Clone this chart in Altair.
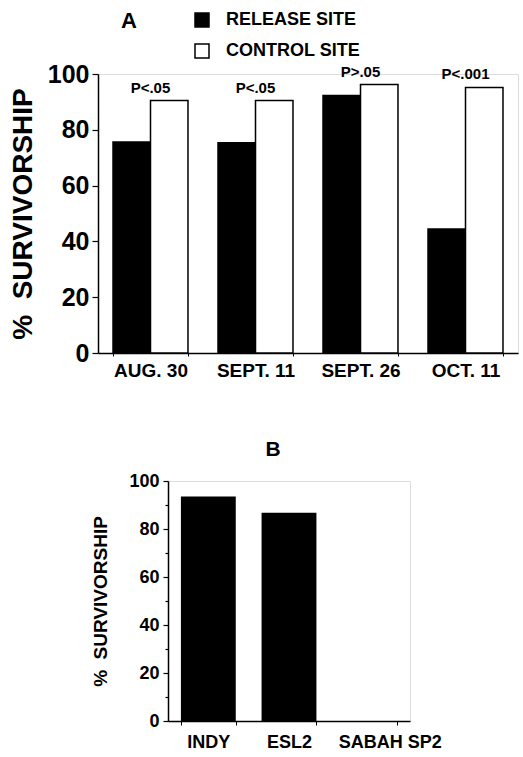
import altair as alt
import pandas as pd

# ---- data ----
dates = ["AUG. 30", "SEPT. 11", "SEPT. 26", "OCT. 11"]
sites = ["RELEASE SITE", "CONTROL SITE"]
release = [75.6, 75.4, 92.3, 44.4]
control = [90.5, 90.5, 96.2, 95.2]
p_labels = ["P<.05", "P<.05", "P>.05", "P<.001"]
strains = ["INDY", "ESL2", "SABAH SP2"]
strain_surv = [93.5, 86.8, 0.0]

FONT = "Liberation Sans"
YTITLE = "%\u00a0\u00a0SURVIVORSHIP"

dfA = pd.DataFrame({
    "date": dates * 2,
    "site": [sites[0]] * len(dates) + [sites[1]] * len(dates),
    "value": release + control,
})
dfP = pd.DataFrame({"date": dates, "p": p_labels, "value": control})
dfB = pd.DataFrame({"strain": strains, "value": strain_surv})

ticks = list(range(0, 101, 10))
label_expr = "datum.value % 20 == 0 ? datum.label : ''"


def tick_cond(minor, major):
    return {"condition": {"test": "datum.value % 20 != 0", "value": minor}, "value": major}


# ---- panel A ----
xA = alt.X(
    "date:N", sort=dates, title=None,
    scale=alt.Scale(paddingInner=0.286, paddingOuter=0.143),
    axis=alt.Axis(labelAngle=0, labelFont=FONT, labelFontSize=19, labelFontWeight="bold",
                  labelColor="black", tickBand="extent", tickSize=3, tickColor="black",
                  labelPadding=5, domainColor="black", domainWidth=1.5),
)
yA = alt.Y(
    "value:Q", scale=alt.Scale(domain=[0, 100], nice=False), title=YTITLE,
    axis=alt.Axis(values=ticks, labelExpr=label_expr, tickSize=tick_cond(3, 6),
                  tickColor="black", tickWidth=1.2, grid=False,
                  labelFont=FONT, labelFontSize=25, labelFontWeight="bold", labelColor="black",
                  labelPadding=3, domainColor="black", domainWidth=1.5,
                  titleFont=FONT, titleFontSize=28, titleFontWeight="bold", titleColor="black",
                  titlePadding=10),
)

bars = alt.Chart(dfA).mark_bar(stroke="black", strokeWidth=1.5).encode(
    x=xA,
    xOffset=alt.XOffset("site:N", sort=sites, scale=alt.Scale(paddingInner=0, paddingOuter=0)),
    y=yA,
    color=alt.Color(
        "site:N",
        scale=alt.Scale(domain=sites, range=["black", "white"]),
        legend=alt.Legend(
            title="A", orient="none", legendX=23, legendY=-63, direction="vertical",
            titleOrient="left", titleAnchor="start", titleFont=FONT, titleFontSize=22,
            titleFontWeight="bold", titleColor="black", titlePadding=56,
            labelFont=FONT, labelFontSize=18, labelFontWeight="bold", labelColor="black",
            labelOffset=15, symbolType="square", symbolSize=196, symbolStrokeColor="black",
            symbolStrokeWidth=1.5, rowPadding=11, padding=0,
        ),
    ),
)

ptext = alt.Chart(dfP).mark_text(
    font=FONT, fontSize=15, fontWeight="bold", color="black", baseline="alphabetic", dy=-8
).encode(
    x=alt.X("date:N", sort=dates),
    y=alt.Y("value:Q"),
    text="p:N",
)

panelA = alt.layer(bars, ptext).properties(width=420, height=279)

# ---- panel B ----
xB = alt.X(
    "strain:N", sort=strains, title=None,
    scale=alt.Scale(paddingInner=0.32, paddingOuter=0.16),
    axis=alt.Axis(labelAngle=0, labelFont=FONT, labelFontSize=18, labelFontWeight="bold",
                  labelColor="black", tickBand="extent", tickSize=4, tickColor="black",
                  labelPadding=8, domainColor="black", domainWidth=1.5,
                  labelOffset={"condition": {"test": "datum.value == 'SABAH SP2'", "value": 20},
                               "value": 0}),
)
yB = alt.Y(
    "value:Q", scale=alt.Scale(domain=[0, 100], nice=False), title=YTITLE,
    axis=alt.Axis(values=ticks, labelExpr=label_expr, tickSize=tick_cond(3, 5),
                  tickColor="black", tickWidth=1.2, grid=False,
                  labelFont=FONT, labelFontSize=18, labelFontWeight="bold", labelColor="black",
                  labelPadding=4, domainColor="black", domainWidth=1.5,
                  titleFont=FONT, titleFontSize=19, titleFontWeight="bold", titleColor="black",
                  titlePadding=18),
)

panelB = alt.Chart(dfB).mark_bar(color="black").encode(x=xB, y=yB).properties(
    width=242, height=240,
    title=alt.TitleParams("B", font=FONT, fontSize=21, fontWeight="bold", color="black",
                          anchor="middle", dx=-16, offset=12),
)

spacer = alt.Chart(pd.DataFrame({"s": [0]})).mark_text(text=" ", opacity=0).encode(
    x=alt.value(0), y=alt.value(0)
).properties(width=1, height=1, view=alt.ViewConfig(stroke="transparent", strokeWidth=0))

rowB = alt.hconcat(spacer, panelB, spacing=-8)

chart = alt.vconcat(panelA, rowB, spacing=57).properties(
    padding={"left": 8, "top": 11, "right": 0, "bottom": 0}
).configure_view(stroke="transparent", strokeWidth=0).configure(background="white")

chart.save("out.html", embed_options={"renderer": "svg", "actions": False})
